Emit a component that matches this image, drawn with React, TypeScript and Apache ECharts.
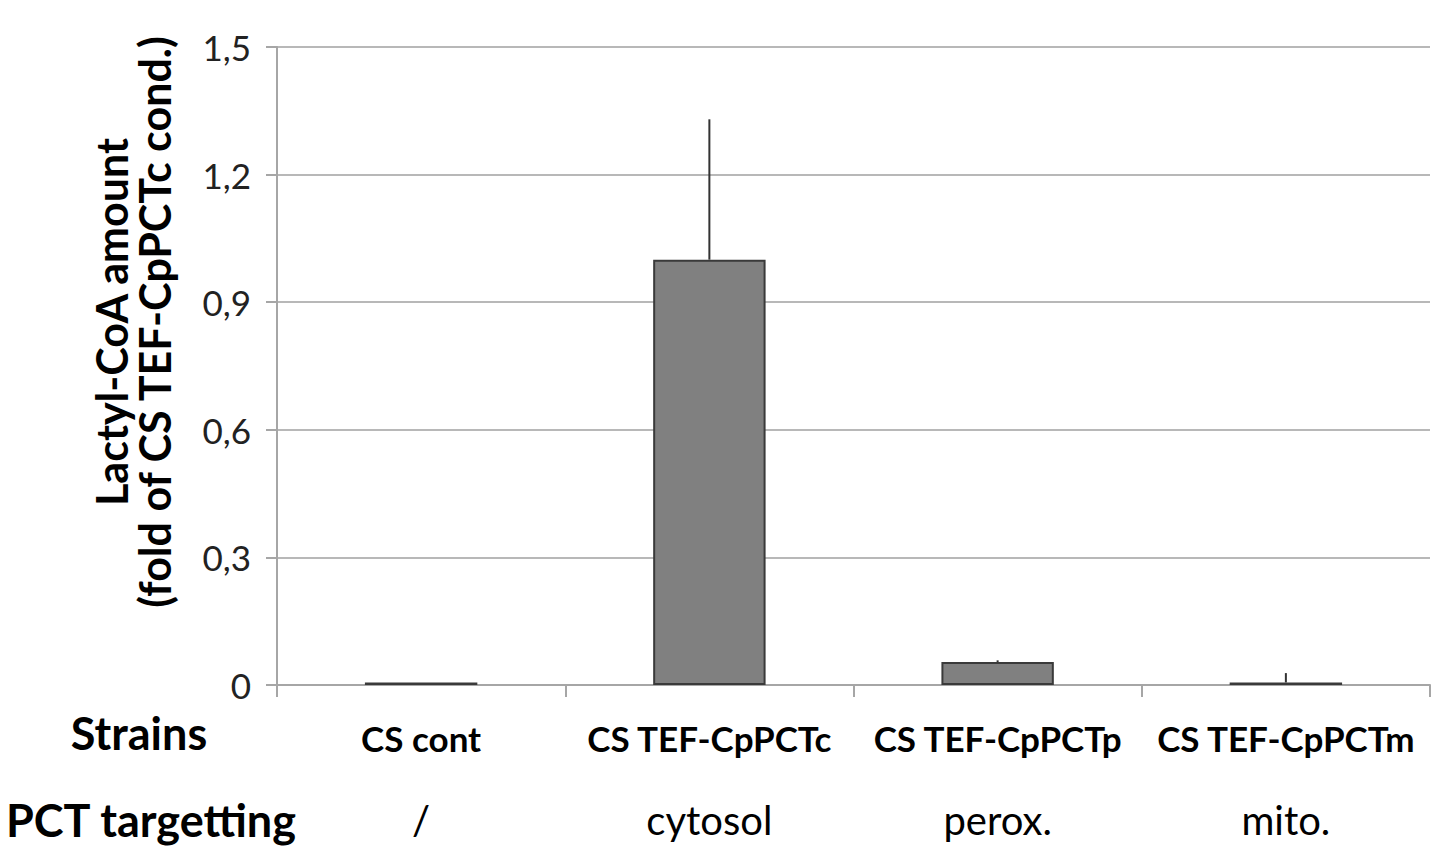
import React, { useEffect, useRef } from "react";
import * as echarts from "echarts";

const categories = ["CS cont", "CS TEF-CpPCTc", "CS TEF-CpPCTp", "CS TEF-CpPCTm"];
const targeting = ["/", "cytosol", "perox.", "mito."];
const values = [0.006, 1.0, 0.054, 0.006];
const errorUpper = [0.006, 1.33, 0.058, 0.028];
const yTicks = { min: 0, max: 1.5, interval: 0.3 };

const FONT = "Lato, 'Open Sans', sans-serif";

export default function App() {
  const ref = useRef<HTMLDivElement>(null);
  useEffect(() => {
    if (!ref.current) return;
    const chart = echarts.init(ref.current, null, { renderer: "svg" });
    const errData = values.map((v, i) => [i, v, errorUpper[i]]);
    chart.setOption({
      animation: false,
      backgroundColor: "#ffffff",
      grid: { left: 277, right: 20, top: 47, bottom: 177 },
      xAxis: {
        type: "category",
        data: categories,
        axisLine: { lineStyle: { color: "#a6a6a6", width: 2 } },
        axisTick: { show: true, length: 12, lineStyle: { color: "#a6a6a6", width: 2 } },
        axisLabel: {
          margin: 12,
          interval: 0,
          formatter: (val: string, idx: number) => `{a|${val}}\n{b|${targeting[idx]}}`,
          rich: {
            a: { fontFamily: FONT, fontWeight: "bold", fontSize: 35, color: "#000", lineHeight: 82 },
            b: { fontFamily: FONT, fontWeight: "normal", fontSize: 40, color: "#000", lineHeight: 82 },
          },
        },
      },
      yAxis: {
        type: "value",
        min: yTicks.min,
        max: yTicks.max,
        interval: yTicks.interval,
        axisLine: { show: true, lineStyle: { color: "#a6a6a6", width: 2 } },
        axisTick: { show: true, length: 11, lineStyle: { color: "#a6a6a6", width: 2 } },
        splitLine: { lineStyle: { color: "#b8b8b8", width: 2 } },
        axisLabel: {
          margin: 26,
          fontFamily: FONT,
          fontSize: 35,
          color: "#222",
          formatter: (v: number) => String(Math.round(v * 10) / 10).replace(".", ","),
        },
      },
      series: [
        {
          type: "bar",
          data: values,
          barWidth: "39%",
          itemStyle: { color: "#808080", borderColor: "#3a3a3a", borderWidth: 2 },
          z: 2,
        },
        {
          type: "custom",
          data: errData,
          z: 3,
          renderItem: (_params: any, api: any) => {
            const x = api.value(0);
            const lo = api.coord([x, api.value(1)]);
            const hi = api.coord([x, api.value(2)]);
            return {
              type: "line",
              shape: { x1: lo[0], y1: lo[1], x2: hi[0], y2: hi[1] },
              style: { stroke: "#333", lineWidth: 2 },
            };
          },
        },
      ],
      graphic: [
        {
          type: "text",
          x: 133,
          y: 322,
          rotation: Math.PI / 2,
          style: {
            text: "Lactyl-CoA amount\n(fold of CS TEF-CpPCTc cond.)",
            fontFamily: FONT,
            fontWeight: "bold",
            fontSize: 43,
            lineHeight: 43,
            fill: "#000",
            align: "center",
            verticalAlign: "middle",
          },
        },
        {
          type: "text",
          x: 139,
          y: 733,
          style: {
            text: "Strains",
            fontFamily: FONT,
            fontWeight: "bold",
            fontSize: 45,
            fill: "#000",
            align: "center",
            verticalAlign: "middle",
          },
        },
        {
          type: "text",
          x: 151,
          y: 820,
          style: {
            text: "PCT targetting",
            fontFamily: FONT,
            fontWeight: "bold",
            fontSize: 45,
            fill: "#000",
            align: "center",
            verticalAlign: "middle",
          },
        },
      ],
    });
    return () => chart.dispose();
  }, []);
  return (
    <div
      ref={ref}
      style={{ position: "fixed", left: 0, top: 0, width: 1450, height: 862 }}
    />
  );
}
